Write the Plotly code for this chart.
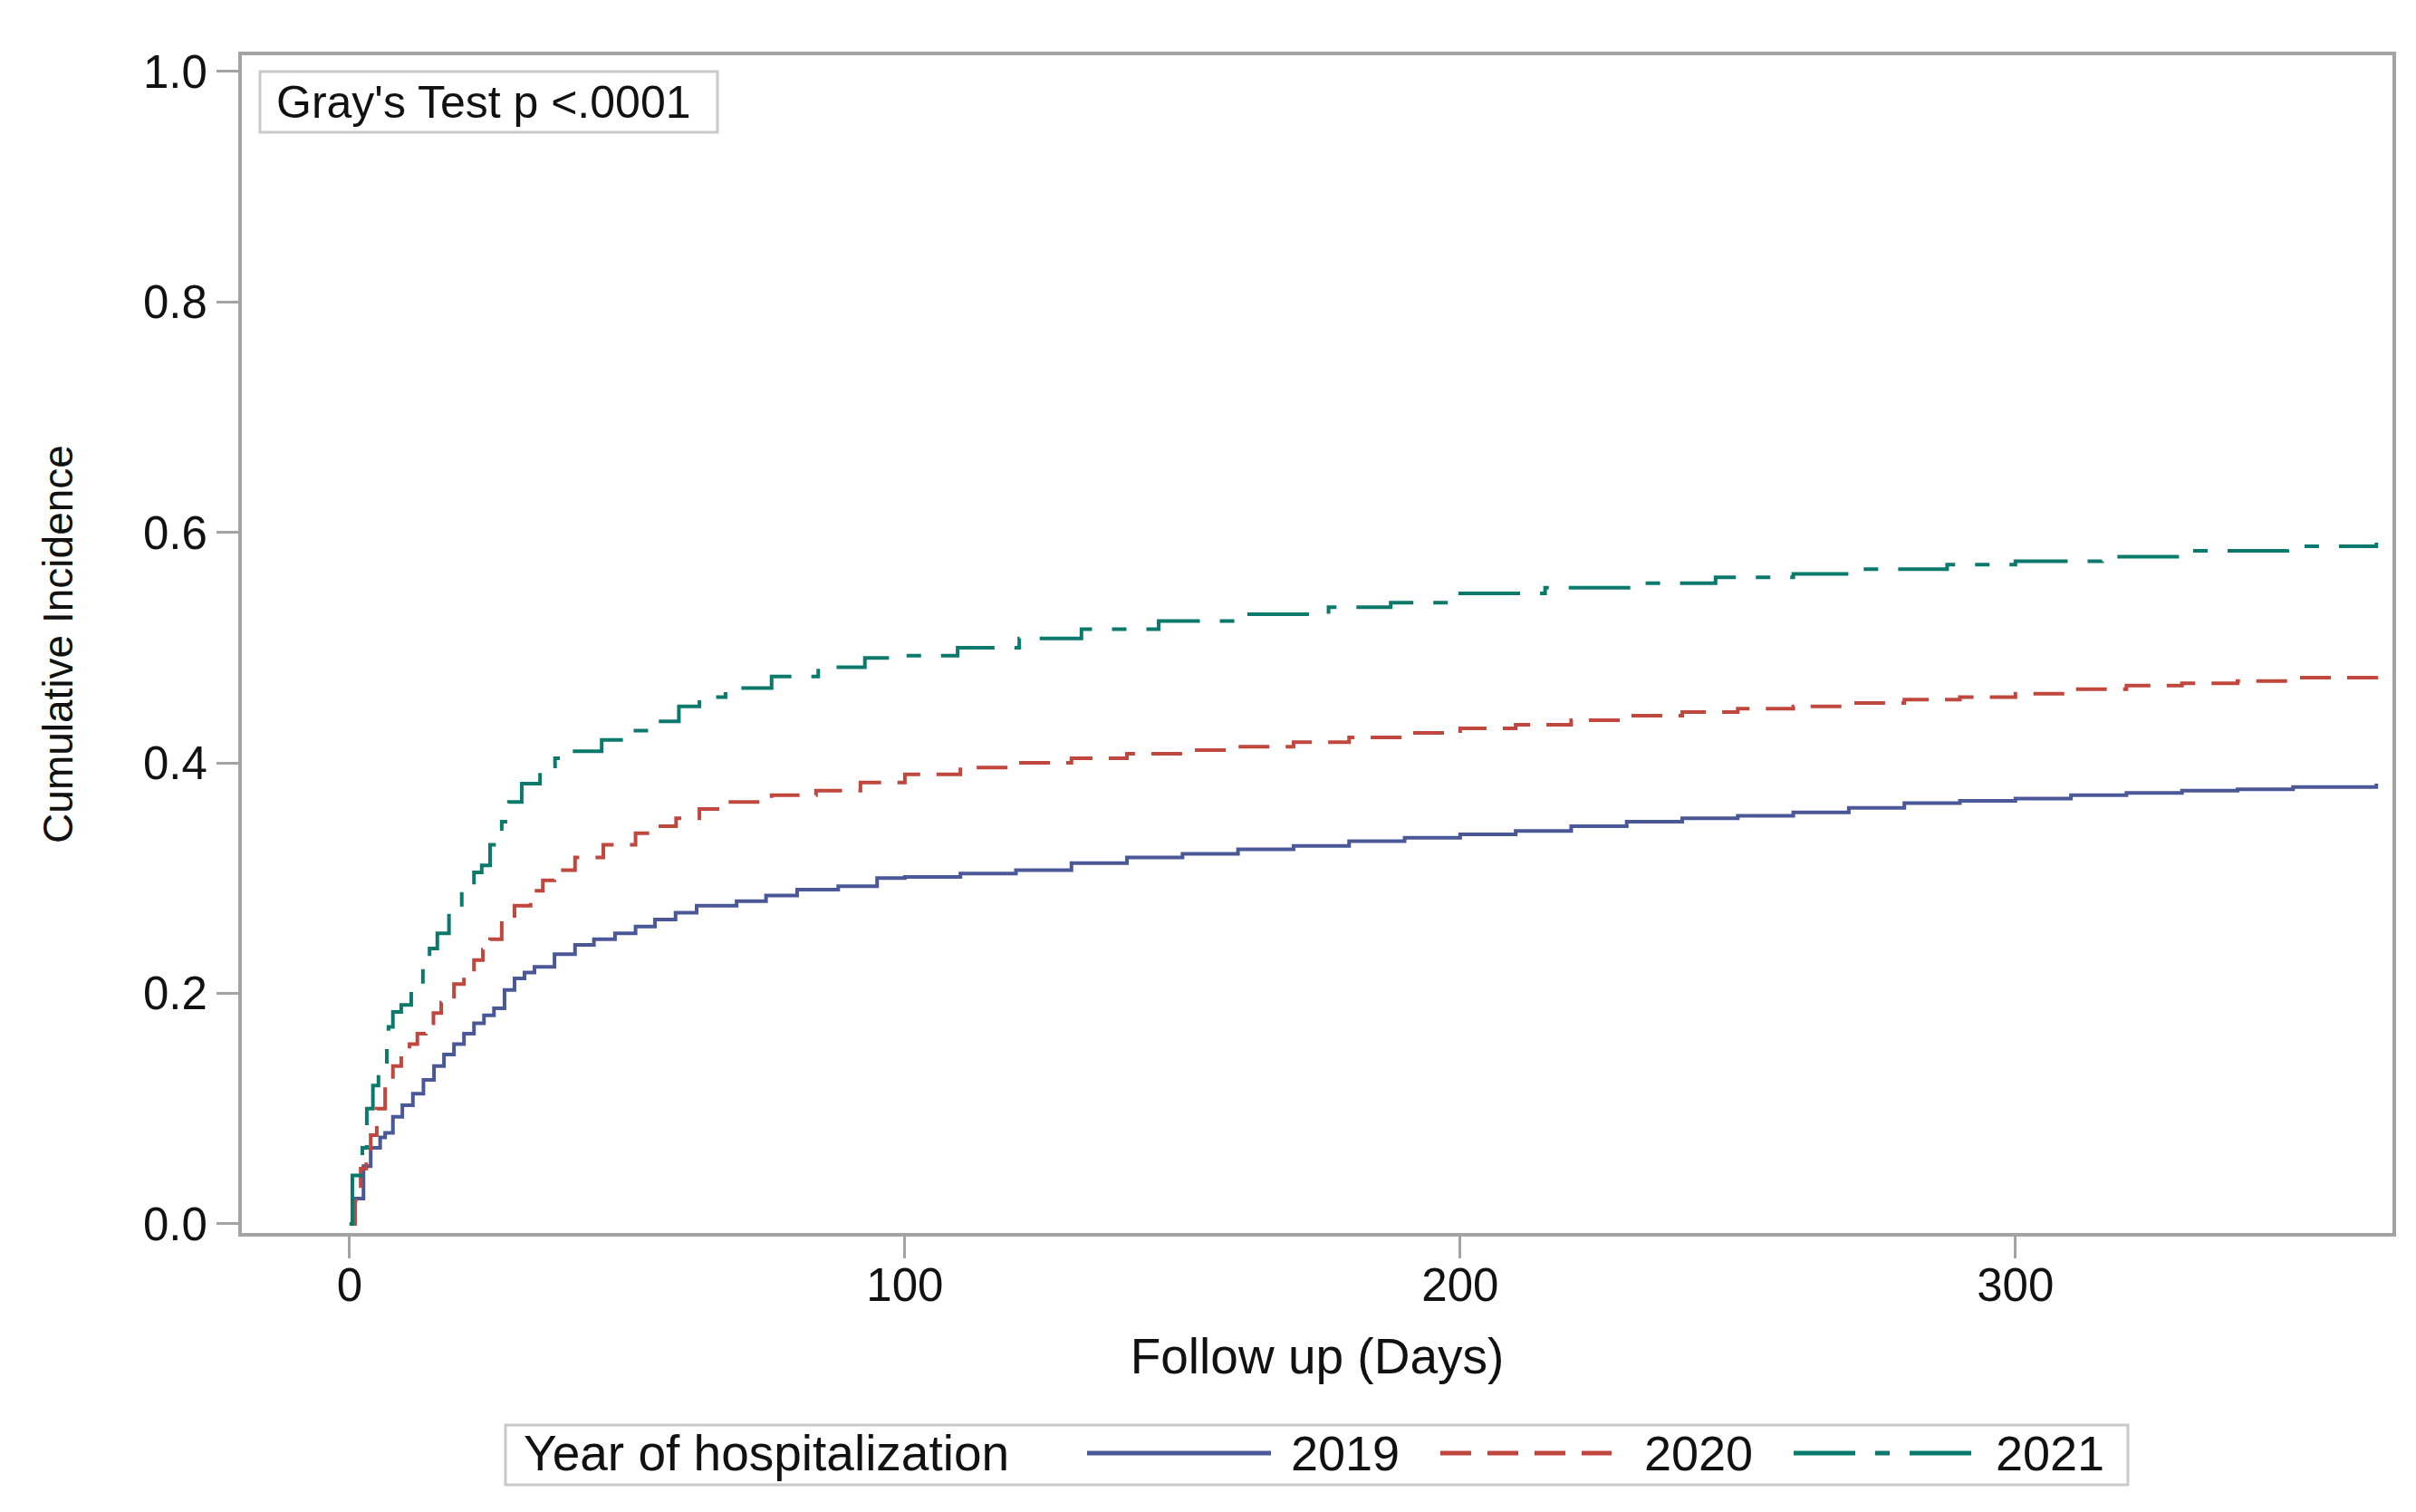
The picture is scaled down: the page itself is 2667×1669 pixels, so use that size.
import plotly.graph_objects as go

# ---------------- data ----------------
days_2019 = [0, 1.0, 2.5, 3.8, 5.5, 6.4, 7.8, 9.5, 11.4, 13.3, 15.2, 17, 18.8, 20.6, 22.4, 24.2, 26,
             27.9, 29.7, 31.5, 33.3, 36.9, 40.6, 44, 47.8, 51.5, 55, 58.7, 62.5, 69.7, 75, 80.6, 88,
             95, 100, 110, 120, 130, 140, 150, 160, 170, 180, 190, 200, 210, 220, 230, 240, 250,
             260, 270, 280, 290, 300, 310, 320, 330, 340, 350, 365]
cif_2019 = [0, 0.022, 0.05, 0.066, 0.075, 0.079, 0.093, 0.103, 0.113, 0.125, 0.137, 0.147, 0.156,
            0.165, 0.174, 0.181, 0.187, 0.203, 0.213, 0.218, 0.223, 0.234, 0.242, 0.247, 0.252,
            0.258, 0.264, 0.270, 0.276, 0.280, 0.285, 0.290, 0.293, 0.300, 0.301, 0.304, 0.307,
            0.313, 0.318, 0.321, 0.325, 0.328, 0.332, 0.335, 0.338, 0.341, 0.345, 0.349, 0.352,
            0.354, 0.357, 0.361, 0.365, 0.367, 0.369, 0.372, 0.374, 0.376, 0.377, 0.379, 0.382]

days_2020 = [0, 1.0, 2.0, 3.0, 3.8, 4.9, 6.4, 7.8, 9.3, 10.8, 12.2, 13.7, 15.1, 16.5, 18.8, 20.6,
             22.4, 24, 25.3, 27.4, 29.7, 32.6, 34.8, 36.9, 40.6, 45.7, 51.5, 55, 58.8, 63, 67.7, 76,
             84, 92, 100, 110, 120, 130, 140, 150, 160, 170, 180, 190, 200, 210, 220, 230, 240, 250,
             260, 270, 280, 290, 300, 310, 320, 330, 340, 350, 365]
cif_2020 = [0, 0.020, 0.048, 0.062, 0.077, 0.100, 0.119, 0.137, 0.147, 0.156, 0.165, 0.174, 0.183,
            0.192, 0.208, 0.218, 0.229, 0.238, 0.247, 0.263, 0.276, 0.289, 0.298, 0.307, 0.318,
            0.329, 0.339, 0.345, 0.352, 0.360, 0.366, 0.372, 0.376, 0.383, 0.390, 0.396, 0.400,
            0.404, 0.408, 0.411, 0.414, 0.418, 0.422, 0.426, 0.430, 0.433, 0.437, 0.441, 0.444,
            0.447, 0.449, 0.452, 0.455, 0.457, 0.460, 0.464, 0.467, 0.469, 0.471, 0.474, 0.477]

days_2021 = [0, 0.5, 2.3, 3.1, 4.2, 5.2, 6.7, 7.0, 7.8, 9.3, 11.1, 13.2, 14.4, 15.8, 17.9, 20.2,
             22.4, 23.8, 25.3, 27.4, 28.7, 31, 34.3, 37, 39.8, 45.4, 50, 53.8, 59.3, 63, 67.7, 76,
             84.4, 92.8, 100, 109.5, 120.6, 131.8, 145.7, 159.6, 176.3, 187.5, 200, 215.3, 232,
             246, 260, 271, 287.7, 300, 315.6, 332, 349, 365]
cif_2021 = [0, 0.042, 0.066, 0.100, 0.120, 0.134, 0.156, 0.171, 0.184, 0.190, 0.205, 0.223, 0.239,
            0.252, 0.270, 0.289, 0.305, 0.311, 0.329, 0.349, 0.366, 0.382, 0.397, 0.404, 0.410,
            0.420, 0.428, 0.436, 0.449, 0.457, 0.465, 0.475, 0.483, 0.491, 0.493, 0.500, 0.508,
            0.516, 0.523, 0.529, 0.535, 0.539, 0.547, 0.552, 0.556, 0.561, 0.564, 0.568, 0.572,
            0.575, 0.579, 0.584, 0.588, 0.591]

series_names = ["2019", "2020", "2021"]
x_ticks = [0, 100, 200, 300]
y_ticks = [0.0, 0.2, 0.4, 0.6, 0.8, 1.0]
y_tick_labels = ["0.0", "0.2", "0.4", "0.6", "0.8", "1.0"]

# ---------------- styling ----------------
PAGE_W, PAGE_H = 2667, 1669
OFF = 8                                    # default browser body margin
W, H = PAGE_W - OFF, PAGE_H - OFF
# plot-area edges in page pixels
L_pg, R_pg, T_pg, B_pg = 267, 2641, 61, 1361
L, R, T, B = L_pg - OFF, R_pg - OFF, T_pg - OFF, B_pg - OFF
FONT = "Liberation Sans, Arial, Helvetica, sans-serif"
AXIS_GRAY = "#a3a3a3"
BOX_GRAY = "#c9c9c9"
TEXT = "#111111"
colors = ["#4a5897", "#c0473d", "#0b7a6c"]
dashes = ["solid", "34px,18px", "68px,22px,16px,22px"]


def px_x(px):
    """page pixel -> paper x"""
    return (px - L_pg) / (R_pg - L_pg)


def px_y(py):
    """page pixel -> paper y"""
    return (B_pg - py) / (B_pg - T_pg)


fig = go.Figure()
for d, v, name, c, dash in zip([days_2019, days_2020, days_2021],
                               [cif_2019, cif_2020, cif_2021],
                               series_names, colors, dashes):
    fig.add_trace(go.Scatter(x=d, y=v, mode="lines", name=name, line_shape="hv",
                             line=dict(color=c, width=4, dash=dash), showlegend=False))

axis_common = dict(showline=True, linecolor=AXIS_GRAY, linewidth=4, mirror=True,
                   ticks="outside", ticklen=24, tickwidth=3, tickcolor=AXIS_GRAY,
                   showgrid=False, zeroline=False,
                   tickfont=dict(family=FONT, size=51, color=TEXT))

fig.update_xaxes(range=[-19.4, 367.9], tickvals=x_ticks, ticklabelstandoff=-14,
                 title=dict(text="Follow up (Days)", font=dict(family=FONT, size=55, color=TEXT),
                            standoff=32),
                 **axis_common)
fig.update_yaxes(range=[-0.0079, 1.014], tickvals=y_ticks, ticktext=y_tick_labels,
                 title=dict(text="Cumulative Incidence", font=dict(family=FONT, size=46, color=TEXT),
                            standoff=64),
                 **axis_common)

shapes = []
annotations = []

# Gray's test inset box
shapes.append(dict(type="rect", xref="paper", yref="paper",
                   x0=px_x(287), x1=px_x(792), y0=px_y(146), y1=px_y(79),
                   line=dict(color=BOX_GRAY, width=3), fillcolor="white", layer="above"))
annotations.append(dict(text="Gray's Test p <.0001", xref="paper", yref="paper",
                        x=px_x(303), y=px_y(112.5), xanchor="left", yanchor="middle",
                        showarrow=False, font=dict(family=FONT, size=50, color=TEXT)))

# Legend (drawn below the plot area)
leg_y = px_y(1604)
shapes.append(dict(type="rect", xref="paper", yref="paper",
                   x0=px_x(558), x1=px_x(2349), y0=px_y(1639), y1=px_y(1573),
                   line=dict(color=BOX_GRAY, width=3), fillcolor="white", layer="above"))
annotations.append(dict(text="Year of hospitalization", xref="paper", yref="paper",
                        x=px_x(576), y=leg_y, xanchor="left", yanchor="middle",
                        showarrow=False, font=dict(family=FONT, size=55, color=TEXT)))
sample_x = [(1200, 1403), (1590, 1779), (1980, 2180)]
label_x = [1423, 1813, 2201]
for (x0, x1), lx, name, c, dash in zip(sample_x, label_x, series_names, colors, dashes):
    shapes.append(dict(type="line", xref="paper", yref="paper",
                       x0=px_x(x0), x1=px_x(x1), y0=leg_y, y1=leg_y,
                       line=dict(color=c, width=5, dash=dash)))
    annotations.append(dict(text=name, xref="paper", yref="paper",
                            x=px_x(lx), y=leg_y, xanchor="left", yanchor="middle",
                            showarrow=False, font=dict(family=FONT, size=54, color=TEXT)))

fig.update_layout(width=W, height=H, margin=dict(l=L, r=W - R, t=T, b=H - B, autoexpand=False),
                  paper_bgcolor="white", plot_bgcolor="white",
                  font=dict(family=FONT, color=TEXT),
                  shapes=shapes, annotations=annotations, showlegend=False)

fig.write_html("out.html")
